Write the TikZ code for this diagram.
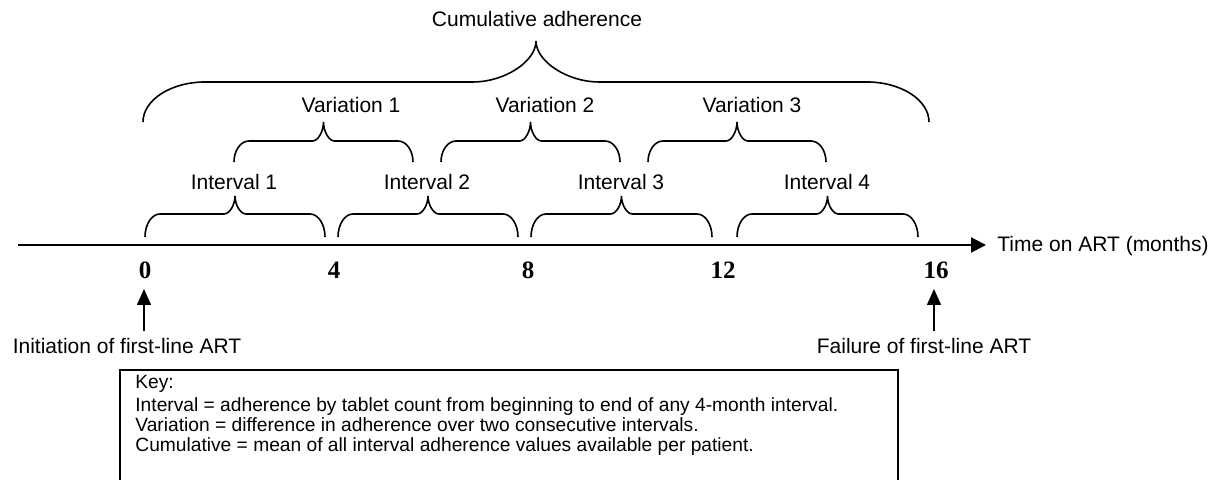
\documentclass[tikz,border=0pt]{standalone}
\usepackage{fontspec}
\setmainfont{Liberation Sans}
\newfontfamily\numfont{Liberation Serif}
\usetikzlibrary{arrows.meta}
% curly brace: x1, x2, yend, yh, ytip, corner rx, tip half-width
\newcommand\curlybrace[7]{%
  \pgfmathsetmacro\xm{(#1+#2)/2}%
  \draw[brc] (#1,#3) .. controls (#1,{#3-0.55*(#3-#4)}) and ({#1+0.45*#6},#4) .. ({#1+#6},#4)
    -- ({\xm-#7},#4) .. controls ({\xm-0.5*#7},#4) and (\xm,{#4-0.5*(#4-#5)}) .. (\xm,#5)
    .. controls (\xm,{#4-0.5*(#4-#5)}) and ({\xm+0.5*#7},#4) .. ({\xm+#7},#4)
    -- ({#2-#6},#4) .. controls ({#2-0.45*#6},#4) and (#2,{#3-0.55*(#3-#4)}) .. (#2,#3);%
}
\begin{document}
\begin{tikzpicture}[x=0.5pt,y=-0.5pt,
  lbl/.style={font=\fontsize{10.5}{12}\selectfont, inner sep=0pt, anchor=base},
  num/.style={font=\numfont\bfseries\fontsize{12.5}{13}\selectfont, inner sep=0pt, anchor=base},
  keytxt/.style={font=\fontsize{9.6}{10}\selectfont, inner sep=0pt, anchor=base west},
  brc/.style={line width=0.8pt},
  axisline/.style={line width=1pt, -{Triangle[length=7.5pt,width=7.5pt]}},
  uparr/.style={line width=0.75pt, -{Triangle[length=8pt,width=7pt]}},
  keybox/.style={line width=1pt}
]
\useasboundingbox (0,0) rectangle (1217,480);

% axis
\coordinate (axstart) at (18,245);
\coordinate (axend) at (986,245);
\draw[axisline] (axstart) -- (axend);
\node[lbl, anchor=base west] (timelbl) at (997,252) {Time on ART (months)};

% tick numbers
\node[num] (n0) at (145,279) {0};
\node[num] (n4) at (334,279) {4};
\node[num] (n8) at (528,279) {8};
\node[num] (n12) at (723,279) {12};
\node[num] (n16) at (936,279) {16};

% interval braces
\curlybrace{145}{325}{237}{214}{196}{15}{11}
\curlybrace{338}{518}{237}{214}{196}{15}{11}
\curlybrace{531}{712}{237}{214}{196}{15}{11}
\curlybrace{737}{918}{237}{214}{196}{15}{11}
\node[lbl] (i1) at (234,190) {Interval 1};
\node[lbl] (i2) at (427,190) {Interval 2};
\node[lbl] (i3) at (621,190) {Interval 3};
\node[lbl] (i4) at (827,190) {Interval 4};

% variation braces
\curlybrace{234}{413}{162}{141}{122}{15}{11}
\curlybrace{441}{620}{162}{141}{122}{15}{11}
\curlybrace{648}{826}{162}{141}{122}{15}{11}
\node[lbl] (v1) at (351,113) {Variation 1};
\node[lbl] (v2) at (545,113) {Variation 2};
\node[lbl] (v3) at (752,113) {Variation 3};

% cumulative brace
\curlybrace{143}{929}{122}{82}{41}{62}{63}
\node[lbl] (cum) at (537,27) {Cumulative adherence};

% event arrows
\coordinate (a0b) at (144,331);
\coordinate (a0t) at (144,289);
\draw[uparr] (a0b) -- (a0t);
\coordinate (a16b) at (934,331);
\coordinate (a16t) at (934,289);
\draw[uparr] (a16b) -- (a16t);
\node[lbl] (init) at (127,354) {Initiation of first-line ART};
\node[lbl] (fail) at (924,354) {Failure of first-line ART};

% key
\draw[keybox] (120,481) -- (120,370) -- (898,370) -- (898,481);
\node[keytxt] (k0) at (135,389) {Key:};
\node[keytxt] (k1) at (135,412) {Interval = adherence by tablet count from beginning to end of any 4-month interval.};
\node[keytxt] (k2) at (135,432) {Variation = difference in adherence over two consecutive intervals.};
\node[keytxt] (k3) at (135,452) {Cumulative = mean of all interval adherence values available per patient.};
\end{tikzpicture}
\end{document}
